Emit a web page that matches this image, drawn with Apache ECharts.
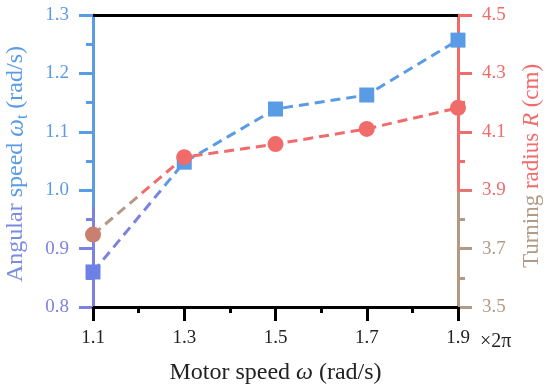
<!DOCTYPE html>
<html><head><meta charset="utf-8">
<script src="https://cdn.jsdelivr.net/npm/echarts@6/dist/echarts.min.js"></script>
<style>html,body{margin:0;padding:0;background:#fff}#c{width:550px;height:392px}</style>
</head><body><div id="c"></div>
<script>
const motorSpeed = [1.1, 1.3, 1.5, 1.7, 1.9];
const angularSpeed = [0.860, 1.048, 1.139, 1.163, 1.257];
const turningRadius = [3.748, 4.013, 4.058, 4.110, 4.182];
const xTicks = ['1.1', '1.3', '1.5', '1.7', '1.9'];
const leftTicks = ['0.8', '0.9', '1.0', '1.1', '1.2', '1.3'];
const rightTicks = ['3.5', '3.7', '3.9', '4.1', '4.3', '4.5'];

const BLUE = '#5a9be6', RED = '#f26b6b', PURPLE = '#7b82e2', BROWN = '#b39a86';
const FONT = 'Liberation Serif';
const chart = echarts.init(document.getElementById('c'), null, {renderer: 'canvas'});

function vgrad(c1, c2, split) {
  return {type: 'linear', global: true, x: 0, y: 15, x2: 0, y2: 307,
    colorStops: [{offset: 0, color: c1}, {offset: split, color: c1}, {offset: split + 0.01, color: c2}, {offset: 1, color: c2}]};
}

chart.setOption({
  animation: false,
  grid: {left: 93, right: 92, top: 15, bottom: 85, outerBoundsMode: 'none', containLabel: false},
  xAxis: [{
    type: 'value', min: 1.1, max: 1.9, interval: 0.2,
    position: 'bottom',
    axisLine: {lineStyle: {color: '#000', width: 3}},
    axisTick: {inside: false, length: 14, lineStyle: {color: '#000', width: 3}},
    minorTick: {show: true, splitNumber: 2, length: 6, lineStyle: {color: '#000', width: 3}},
    splitLine: {show: false},
    axisLabel: {fontFamily: FONT, fontSize: 19, color: '#222', margin: 22,
      formatter: v => { const s = v.toFixed(1); return xTicks.includes(s) ? s : ''; }},
    name: 'Motor speed {i|ω} (rad/s)', nameLocation: 'middle', nameGap: 54,
    nameTextStyle: {fontFamily: FONT, fontSize: 24, color: '#222',
      rich: {i: {fontFamily: FONT, fontSize: 24, fontStyle: 'italic', color: '#222'}}}
  }, {
    type: 'value', min: 1.1, max: 1.9, position: 'top',
    axisLine: {show: true, lineStyle: {color: '#000', width: 3}},
    axisTick: {show: false}, axisLabel: {show: false}, splitLine: {show: false}
  }],
  yAxis: [{
    type: 'value', min: 0.8, max: 1.3, interval: 0.1, position: 'left',
    axisLine: {show: true, lineStyle: {width: 3, color: vgrad(BLUE, PURPLE, 0.65)}},
    axisTick: {show: true, length: 14, lineStyle: {width: 3}},
    minorTick: {show: true, splitNumber: 2, length: 7, lineStyle: {width: 3}},
    splitLine: {show: false},
    axisLabel: {fontFamily: FONT, fontSize: 19, margin: 24,
      color: v => (v < 0.95 ? PURPLE : BLUE),
      formatter: v => { const s = v.toFixed(1); return leftTicks.includes(s) ? s : ''; }}
  }, {
    type: 'value', min: 3.5, max: 4.5, interval: 0.2, position: 'right',
    axisLine: {show: true, lineStyle: {width: 3, color: vgrad(RED, BROWN, 0.6)}},
    axisTick: {show: true, length: 14, lineStyle: {width: 3}},
    minorTick: {show: true, splitNumber: 2, length: 7, lineStyle: {width: 3}},
    splitLine: {show: false},
    axisLabel: {fontFamily: FONT, fontSize: 19, margin: 24,
      color: v => (v < 3.8 ? BROWN : RED),
      formatter: v => { const s = v.toFixed(1); return rightTicks.includes(s) ? s : ''; }}
  }],
  graphic: [{
    type: 'text', left: 480, top: 332, silent: true,
    style: {text: '×2π', fontFamily: FONT, fontSize: 20, fill: '#222'}
  }, {
    type: 'text', x: 16, y: 164, rotation: Math.PI / 2, silent: true,
    style: {text: '{p|Angular} speed {i|ω}{s|t} (rad/s)', fontFamily: FONT, fontSize: 24, fill: BLUE,
      align: 'center', verticalAlign: 'middle',
      rich: {p: {fontFamily: FONT, fontSize: 24, fill: '#7b8de2'},
             i: {fontFamily: FONT, fontSize: 25, fontStyle: 'italic', fill: BLUE},
             s: {fontFamily: FONT, fontSize: 16, fill: BLUE, padding: [14, 0, 0, 0]}}}
  }, {
    type: 'text', x: 532, y: 166, rotation: Math.PI / 2, silent: true,
    style: {text: '{b|Turning} radius {i|R} (cm)', fontFamily: FONT, fontSize: 23, fill: RED,
      align: 'center', verticalAlign: 'middle',
      rich: {b: {fontFamily: FONT, fontSize: 23, fill: BROWN},
             i: {fontFamily: FONT, fontSize: 23, fontStyle: 'italic', fill: RED}}}
  }],
  series: [{
    name: 'Angular speed', type: 'line', xAxisIndex: 0, yAxisIndex: 0,
    data: motorSpeed.map((x, i) => ({value: [x, angularSpeed[i]], itemStyle: {color: i === 0 ? '#6c80e6' : BLUE}})),
    symbol: 'rect', symbolSize: 15,
    lineStyle: {color: vgrad(BLUE, PURPLE, 0.6), width: 3, type: [10, 6]},
    itemStyle: {color: BLUE}
  }, {
    name: 'Turning radius', type: 'line', xAxisIndex: 0, yAxisIndex: 1,
    data: motorSpeed.map((x, i) => ({value: [x, turningRadius[i]], itemStyle: {color: i === 0 ? '#c98070' : RED}})),
    symbol: 'circle', symbolSize: 16,
    lineStyle: {color: vgrad(RED, BROWN, 0.62), width: 3, type: [10, 6]},
    itemStyle: {color: RED}
  }]
});
</script></body></html>
